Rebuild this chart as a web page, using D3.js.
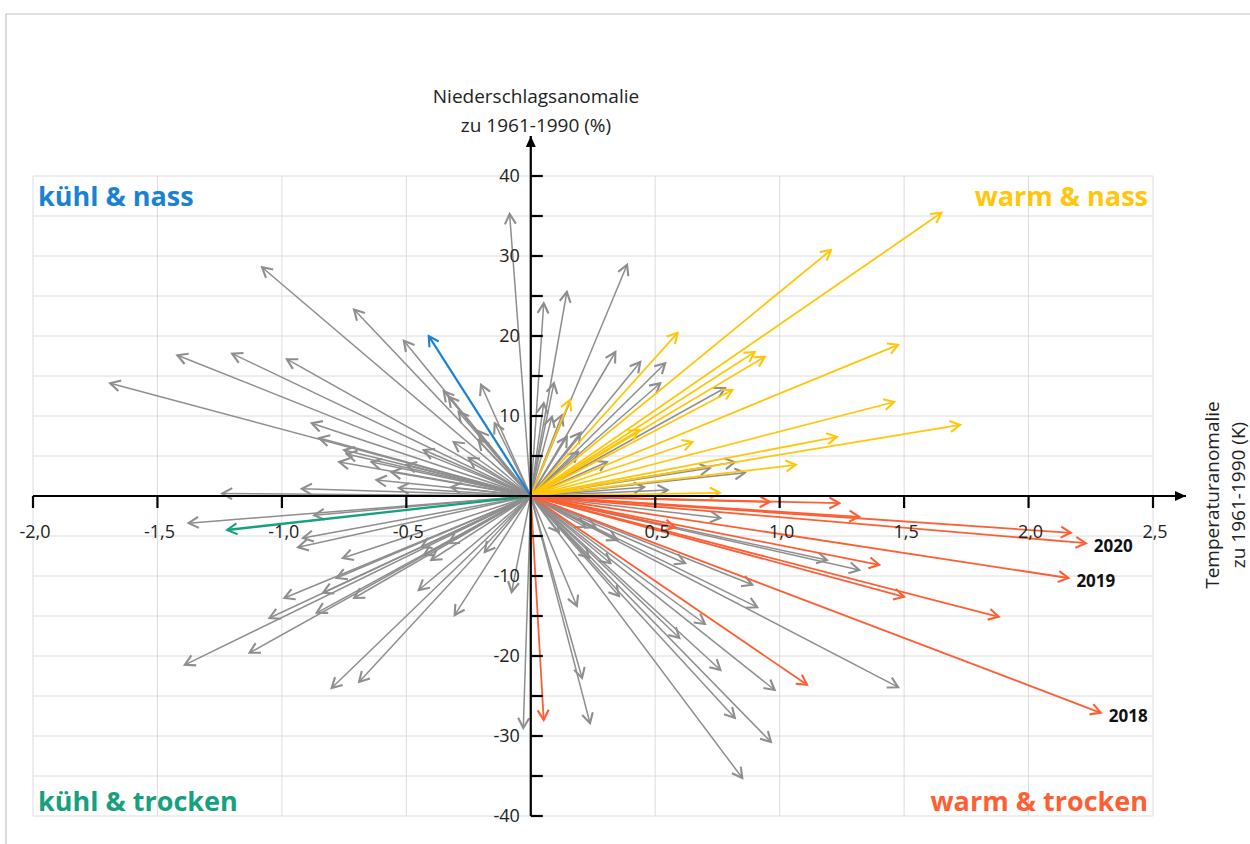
<!DOCTYPE html>
<html>
<head>
<meta charset="utf-8">
<script src="https://cdn.jsdelivr.net/npm/d3@7"></script>
<style>
  body { margin: 0; background: #fff; }
  text { font-family: "Open Sans", Lato, sans-serif; }
</style>
</head>
<body>
<div id="chart"></div>
<script>
// anomaly pairs [temperature K, precipitation %]
let grayYears = [
  [-1.69, 14.1], [-1.42, 17.6], [-1.20, 17.8], [-1.08, 28.6], [-0.98, 17.1],
  [-0.71, 23.3], [-0.51, 19.4], [-0.35, 13.1], [-0.33, 12.4], [-0.29, 10.5],
  [-0.20, 13.9], [-0.145, 9.1], [-0.21, 8.1], [-0.21, 7.0], [-0.31, 6.75],
  [-0.43, 5.75], [-0.25, 4.75], [-0.50, 3.9], [-0.56, 3.0], [-0.32, 1.1],
  [-0.53, 1.0], [-0.88, 9.1], [-0.85, 7.25], [-0.75, 5.75], [-0.74, 5.25],
  [-0.77, 4.25], [-0.64, 4.25], [-0.62, 2.0], [-0.92, 0.9], [-1.24, 0.3],
  [-0.085, 35.25],
  [0.052, 24.1], [0.145, 25.5], [0.387, 28.9], [0.052, 11.6], [0.093, 14.1],
  [0.085, 9.9], [0.125, 10.1], [0.34, 18.0], [0.44, 16.75], [0.54, 16.6],
  [0.52, 14.1], [0.145, 7.4], [0.20, 7.9], [0.19, 5.5], [0.306, 4.25],
  [0.455, 1.1], [0.55, 0.75], [0.78, 13.5], [0.82, 4.25], [0.86, 2.9],
  [0.72, 3.5],
  [-1.375, -3.4], [-0.87, -2.4], [-0.915, -5.25], [-0.935, -6.4], [-0.755, -7.75],
  [-0.78, -10.25], [-0.99, -12.75], [-0.835, -12.1], [-0.71, -12.75], [-1.05, -15.25],
  [-0.86, -14.6], [-1.13, -19.6], [-1.39, -21.1], [-0.80, -24.0], [-0.69, -23.25],
  [-0.45, -11.75], [-0.306, -14.9], [-0.43, -7.4], [-0.40, -8.0], [-0.44, -6.4],
  [-0.33, -5.9], [-0.185, -7.0], [-0.077, -12.0], [-0.03, -29.0],
  [0.113, -4.5], [0.22, -3.9], [0.26, -3.9], [0.347, -5.5], [0.234, -7.75],
  [0.32, -8.4], [0.185, -13.75], [0.355, -12.5], [0.62, -8.4], [0.70, -16.0],
  [0.762, -2.75], [0.206, -22.75], [0.238, -28.4], [0.89, -11.1], [0.91, -13.9],
  [0.597, -17.75], [0.762, -21.75], [0.82, -27.75], [0.85, -35.25], [0.965, -30.75],
  [0.98, -24.25], [1.19, -8.0], [1.32, -9.25], [1.476, -23.9]
];

let warmWetYears = [
  [0.157, 12.0], [0.59, 20.4], [0.435, 8.25], [0.65, 6.75], [0.90, 18.0],
  [0.94, 17.4], [0.81, 13.25], [1.206, 30.75], [1.65, 35.4], [1.476, 18.9],
  [1.46, 11.75], [1.725, 8.9], [1.23, 7.4], [1.065, 3.9], [0.76, 0.4]
];

let warmDryYears = [
  [0.96, -0.75], [1.24, -0.9], [1.32, -2.6], [2.17, -4.6], [2.23, -5.9],
  [2.16, -10.25], [1.40, -8.6], [1.50, -12.6], [1.88, -15.1], [2.29, -27.1],
  [1.11, -23.6], [0.052, -28.0], [0.58, -3.9]
];

let coolWetYears = [[-0.41, 20.0]];
let coolDryYears = [[-1.22, -4.25]];

// labelled years: [label, temperature, precipitation]
let yearLabels = [["2020", 2.23, -5.9], ["2019", 2.16, -10.25], ["2018", 2.29, -27.1]];

let xTicks = [-2, -1.5, -1, -0.5, 0, 0.5, 1, 1.5, 2, 2.5];
let yTicks = [-40, -35, -30, -25, -20, -15, -10, -5, 0, 5, 10, 15, 20, 25, 30, 35, 40];
let yLabelTicks = [-40, -30, -20, -10, 10, 20, 30, 40];

let width = 1250;
let height = 844;

let svg = d3.select("#chart").append("svg")
  .attr("width", width)
  .attr("height", height);

let x = d3.scaleLinear().domain([-2, 2.5]).range([33, 1153]);
let y = d3.scaleLinear().domain([-40, 40]).range([816, 176]);

// frame
svg.append("path")
  .attr("d", "M6,844 L6,14 L1250,14")
  .attr("fill", "none")
  .attr("stroke", "#c4c4c4")
  .attr("stroke-width", 1.2);

// grid
let grid = svg.append("g");
grid.selectAll("line.v")
  .data(xTicks)
  .enter()
  .append("line")
  .attr("x1", d => x(d)).attr("x2", d => x(d))
  .attr("y1", y(40)).attr("y2", y(-40))
  .attr("stroke", "#dcdcdc");
grid.selectAll("line.h")
  .data(yTicks)
  .enter()
  .append("line")
  .attr("x1", x(-2)).attr("x2", x(2.5))
  .attr("y1", d => y(d)).attr("y2", d => y(d))
  .attr("stroke", "#dcdcdc");

// arrow markers
let colors = {
  gray: "#8e8e8e",
  warmWet: "#ffc60a",
  warmDry: "#ff5e33",
  coolWet: "#1a82d4",
  coolDry: "#16a07e"
};
let defs = svg.append("defs");
for (let [key, value] of Object.entries(colors)) {
  defs.append("marker")
    .attr("id", "head-" + key)
    .attr("viewBox", "-13 -8 15 16")
    .attr("refX", 0).attr("refY", 0)
    .attr("markerWidth", 15).attr("markerHeight", 16)
    .attr("markerUnits", "userSpaceOnUse")
    .attr("orient", "auto")
    .append("path")
    .attr("d", "M-10,-5.5 L0,0 L-10,5.5")
    .attr("fill", "none")
    .attr("stroke", value)
    .attr("stroke-width", 2.1)
    .attr("stroke-linejoin", "miter");
}
defs.append("marker")
  .attr("id", "axis-head")
  .attr("viewBox", "-12 -6 13 12")
  .attr("refX", 0).attr("refY", 0)
  .attr("markerWidth", 13).attr("markerHeight", 12)
  .attr("markerUnits", "userSpaceOnUse")
  .attr("orient", "auto")
  .append("path")
  .attr("d", "M-11,-5 L0,0 L-11,5 Z")
  .attr("fill", "#000");

function drawArrows(data, key, w) {
  svg.append("g").selectAll("line")
    .data(data)
    .enter()
    .append("line")
    .attr("x1", x(0)).attr("y1", y(0))
    .attr("x2", d => x(d[0]))
    .attr("y2", d => y(d[1]))
    .attr("stroke", colors[key])
    .attr("stroke-width", w)
    .attr("marker-end", "url(#head-" + key + ")");
}

drawArrows(grayYears, "gray", 1.5);
drawArrows(warmWetYears, "warmWet", 1.8);
drawArrows(warmDryYears, "warmDry", 1.8);
drawArrows(coolWetYears, "coolWet", 2.3);
drawArrows(coolDryYears, "coolDry", 2.3);

// axes
let axes = svg.append("g");
axes.append("line")
  .attr("x1", x(-2)).attr("x2", 1186)
  .attr("y1", y(0)).attr("y2", y(0))
  .attr("stroke", "#000").attr("stroke-width", 2.2)
  .attr("marker-end", "url(#axis-head)");
axes.append("line")
  .attr("x1", x(0)).attr("x2", x(0))
  .attr("y1", y(-40)).attr("y2", 136)
  .attr("stroke", "#000").attr("stroke-width", 2.2)
  .attr("marker-end", "url(#axis-head)");

axes.selectAll("line.xt")
  .data(xTicks.filter(d => d !== 0))
  .enter()
  .append("line")
  .attr("x1", d => x(d)).attr("x2", d => x(d))
  .attr("y1", y(0)).attr("y2", y(0) + 12)
  .attr("stroke", "#000").attr("stroke-width", 2.2);
axes.selectAll("line.yt")
  .data(yTicks.filter(d => d !== 0))
  .enter()
  .append("line")
  .attr("x1", x(0)).attr("x2", x(0) + 12)
  .attr("y1", d => y(d)).attr("y2", d => y(d))
  .attr("stroke", "#000").attr("stroke-width", 2.2);

let fmt = d => d3.format(".1f")(d).replace(".", ",").replace("−", "-");
axes.selectAll("text.xl")
  .data(xTicks.filter(d => d !== 0))
  .enter()
  .append("text")
  .attr("x", d => x(d) + 2)
  .attr("y", y(0) + 42)
  .attr("text-anchor", "middle")
  .attr("font-size", 18)
  .attr("fill", "#222")
  .text(fmt);
axes.selectAll("text.yl")
  .data(yLabelTicks)
  .enter()
  .append("text")
  .attr("x", x(0) - 11)
  .attr("y", d => y(d) + 6)
  .attr("text-anchor", "end")
  .attr("font-size", 18)
  .attr("fill", "#222")
  .text(d => String(d));

// axis titles
svg.append("text")
  .attr("x", 536).attr("y", 103)
  .attr("text-anchor", "middle")
  .attr("font-size", 19)
  .attr("fill", "#222")
  .text("Niederschlagsanomalie");
svg.append("text")
  .attr("x", 536).attr("y", 132)
  .attr("text-anchor", "middle")
  .attr("font-size", 19)
  .attr("fill", "#222")
  .text("zu 1961-1990 (%)");
svg.append("text")
  .attr("transform", "translate(1219,495) rotate(-90)")
  .attr("text-anchor", "middle")
  .attr("font-size", 19)
  .attr("fill", "#222")
  .text("Temperaturanomalie");
svg.append("text")
  .attr("transform", "translate(1245,495) rotate(-90)")
  .attr("text-anchor", "middle")
  .attr("font-size", 19)
  .attr("fill", "#222")
  .text("zu 1961-1990 (K)");

// quadrant labels
let quadrants = [
  ["kühl & nass", 38, 206, "start", colors.coolWet],
  ["warm & nass", 1148, 206, "end", colors.warmWet],
  ["kühl & trocken", 38, 811, "start", colors.coolDry],
  ["warm & trocken", 1148, 811, "end", colors.warmDry]
];
svg.selectAll("text.q")
  .data(quadrants)
  .enter()
  .append("text")
  .attr("x", d => d[1])
  .attr("y", d => d[2])
  .attr("text-anchor", d => d[3])
  .attr("font-size", 27)
  .attr("font-weight", "bold")
  .attr("fill", d => d[4])
  .text(d => d[0]);

// year labels
svg.selectAll("text.yr")
  .data(yearLabels)
  .enter()
  .append("text")
  .attr("x", d => x(d[1]) + 8)
  .attr("y", d => y(d[2]) + 9)
  .attr("font-size", 17)
  .attr("font-weight", "bold")
  .attr("fill", "#111")
  .text(d => d[0]);
</script>
</body>
</html>
